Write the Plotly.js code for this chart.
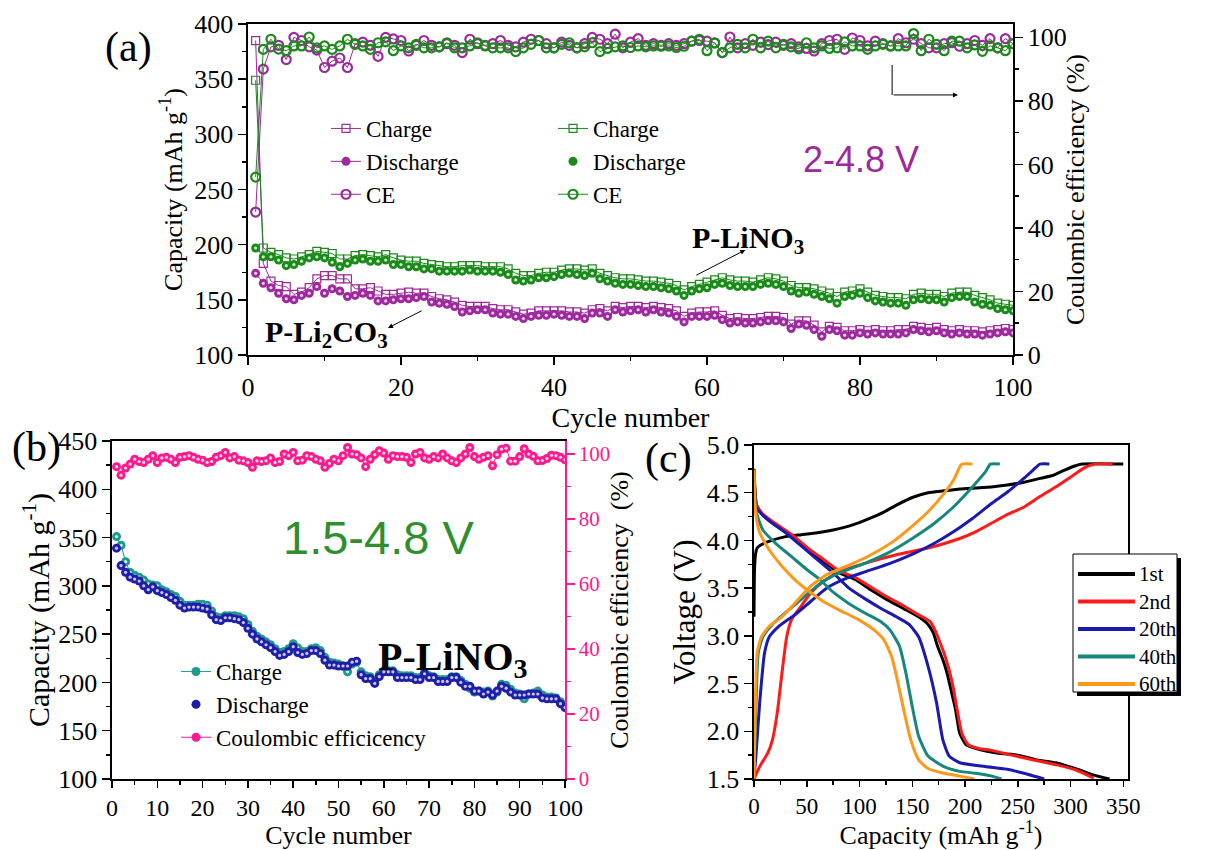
<!DOCTYPE html>
<html>
<head>
<meta charset="utf-8">
<script src="https://cdn.plot.ly/plotly-3.0.1.min.js"></script>
<style>
  html, body { margin: 0; padding: 0; background: #ffffff; }
  #fig { width: 1219px; height: 850px; }
</style>
</head>
<body>
<div id="fig"></div>
<script>
// ---------- Panel (a): cycling at 2-4.8 V ----------
const cyclesA = [1,2,3,4,5,6,7,8,9,10,11,12,13,14,15,16,17,18,19,20,21,22,23,24,25,26,27,28,29,30,31,32,33,34,35,36,37,38,39,40,41,42,43,44,45,46,47,48,49,50,51,52,53,54,55,56,57,58,59,60,61,62,63,64,65,66,67,68,69,70,71,72,73,74,75,76,77,78,79,80,81,82,83,84,85,86,87,88,89,90,91,92,93,94,95,96,97,98,99,100];

// P-Li2CO3
const li2co3Charge = [385,183,167,163,162,155,157,161,169,172,172,169,169,160,160,161,158,155,155,156,157,156,156,153,151,150,148,145,144,144,144,142,141,141,139,137,138,140,140,140,140,139,139,138,141,142,140,144,143,144,144,143,144,143,142,140,135,138,139,139,140,136,133,134,133,133,134,135,135,134,128,131,131,127,121,126,125,122,122,123,122,123,122,122,123,123,126,125,124,125,123,122,123,122,122,121,122,123,124,123];
const li2co3Discharge = [174,165,161,156,151,150,154,156,162,156,160,158,153,154,156,154,149,149,150,151,151,152,153,148,147,146,144,139,140,141,141,138,137,137,135,133,135,136,136,137,136,135,135,133,138,138,135,141,139,140,141,139,141,139,138,135,130,135,135,135,136,132,129,130,129,129,130,131,131,130,124,128,127,123,117,123,122,118,118,120,119,120,119,119,119,120,123,122,121,122,120,119,120,119,119,118,119,120,121,120];
const li2co3CE = [45,90,97,97.5,93,100,99,97,96,90.5,92.5,93.5,90.5,98,98.5,97.5,94,100,99.5,99,95.7,97.5,99,97.5,97,98,97.5,95.2,99.4,98,97.5,98,99,97.5,97,98.5,99.4,99,98,96.7,98.5,97.5,96.7,98,100,99.4,98,101,96.7,98.5,99.6,97.5,98,97.5,98,97.5,98,98.8,99,98.8,98.3,95.2,100.1,96.7,98,97.5,98.5,97.7,98.5,97.5,98,97,96.5,95.7,98,99,99.4,96.2,99.8,99,97.3,98.8,98,97.3,99.6,98.3,99.4,98,96.7,96.7,98,98.3,97.2,98,99,97.5,99.6,96.7,99.6,98];

// P-LiNO3
const linoCharge = [349,197,193,191,188,187,189,191,194,193,192,187,187,190,191,190,189,191,188,186,185,185,183,182,181,180,180,181,181,181,180,180,180,178,174,172,172,174,175,175,177,178,178,177,178,174,172,170,169,169,168,167,167,166,165,163,159,162,164,166,168,170,168,167,167,166,168,170,169,167,163,161,161,160,158,156,153,157,158,160,157,154,153,152,152,151,155,156,155,155,153,156,157,157,154,152,150,147,146,145];
const linoDischarge = [197,189,189,186,181,182,185,188,189,188,184,180,183,186,187,185,185,186,182,182,180,180,178,178,176,176,176,176,177,176,176,176,175,173,168,167,168,170,170,171,173,174,173,172,174,169,167,165,164,164,163,162,162,161,160,158,154,158,160,161,164,165,163,162,162,162,164,165,164,162,158,156,157,155,153,151,147,153,154,156,152,149,148,147,147,145,150,151,150,150,148,152,153,153,148,146,145,142,141,140];
const linoCE = [56,96.2,99.4,96.3,95.8,97.3,97.3,100.1,96.7,97.3,96.2,97.3,99.4,97.8,97.3,96.2,98.3,98.6,95.8,97.3,96.7,97.8,96.7,96.7,97,98.3,96.7,96.7,97.3,98.3,97.3,96.7,96.7,96.7,95.5,96.7,97.8,99,96.7,96.7,97.8,98.3,96.7,97,98.3,95.5,96.5,97,97.3,96.8,97.3,97,97.3,97.2,97.3,96.8,97.2,98.8,99.4,95.8,98.2,95.2,96.7,97.8,96.7,99.4,96.7,98.8,96.7,97.8,97,96.4,98.3,96.7,97.3,96.5,96.7,98.6,97.3,97.3,96.2,97.3,97.8,97.3,97.3,97.3,101.2,95.8,99.4,97.8,95.8,98.8,98.8,96.7,97.6,95.6,97.3,96.7,95.8,98];

// ---------- Panel (b): P-LiNO3 cycling at 1.5-4.8 V ----------
const cyclesB = cyclesA;
const wideCharge = [351,342,325,314,311,309,306,302,301,300,296,294,291,289,284,280,280,280,281,281,280,274,268,267,269,269,269,268,266,260,253,248,245,242,239,235,231,232,235,240,236,232,232,235,236,233,226,221,220,219,217,211,219,221,211,207,206,202,208,212,212,212,208,207,207,207,205,205,210,207,206,203,203,203,206,206,202,198,194,190,191,190,191,186,190,198,197,193,189,188,183,188,189,191,187,185,185,184,180,176];
const wideDischarge = [339,321,314,309,307,305,300,296,299,295,293,291,288,285,280,277,278,278,278,277,276,270,265,264,267,267,266,265,262,256,250,245,242,239,236,232,228,229,232,237,231,229,230,233,233,230,223,218,218,217,217,217,221,222,208,204,204,199,206,211,211,211,205,205,205,205,203,203,209,205,205,201,201,201,205,205,200,196,196,191,191,188,190,187,191,196,194,190,187,187,187,188,188,188,184,183,183,183,178,174];
const wideCE = [96.1,93.5,95.7,96.9,98.4,97.7,97.4,98.4,99.5,97.4,98.8,99.0,98.4,97.4,99.0,99.2,99.5,99.0,98.4,98.1,97.4,97.7,99.0,99.5,100.5,98.8,99.2,98.1,97.9,97.4,95.9,97.9,97.7,97.9,98.8,97.4,97.7,100.0,99.5,100.5,97.9,98.1,99.5,99.2,98.4,97.9,95.9,97.1,98.4,97.9,99.5,102.0,100.0,99.8,98.8,96.1,98.4,99.8,101.0,100.3,98.4,99.5,99.2,99.2,99.0,97.4,100.0,100.5,98.8,98.4,99.2,98.8,100.0,98.8,97.9,97.4,98.8,100.0,102.0,99.2,98.4,99.0,99.5,96.4,99.8,101.5,101.8,97.8,97.8,99.2,101.6,100.0,99.3,97.9,98.0,98.6,99.6,99.5,99.0,98.2];

// ---------- Panel (c): voltage profiles ----------
const c1ChargeCap = [0,0.5,1.5,3,6,14,30,45,60,75,90,105,120,135,150,165,180,195,210,225,240,256,271,283,295,304,311,350];
const c1ChargeV   = [3.20,3.70,3.86,3.92,3.95,3.99,4.04,4.06,4.08,4.11,4.15,4.21,4.28,4.37,4.45,4.50,4.52,4.54,4.55,4.56,4.58,4.61,4.65,4.68,4.74,4.78,4.80,4.80];
const c1DischCap  = [0,1,2.4,8,20,36,51,66,81,96,111,126,141,156,165,170,174,179,183,187,191,195,201,213,232,250,268,286,307,322,337];
const c1DischV    = [4.75,4.50,4.37,4.27,4.16,4.04,3.90,3.78,3.66,3.59,3.48,3.38,3.29,3.20,3.12,3.03,2.89,2.75,2.61,2.42,2.23,1.98,1.86,1.81,1.77,1.75,1.70,1.67,1.60,1.54,1.50];

const c2ChargeCap = [0,5.4,13,17.5,22,26.5,31,35.6,44.6,53.7,65.7,80.8,105,135,165,195,210,225,240,256,271,286,301,313,323.5,340];
const c2ChargeV   = [1.50,1.63,1.77,1.91,2.19,2.61,2.99,3.17,3.31,3.45,3.57,3.67,3.76,3.85,3.92,4.02,4.09,4.18,4.27,4.35,4.46,4.56,4.67,4.76,4.80,4.80];
const c2DischCap  = [0,1,2.4,8,20,36,51,66,81,96,111,126,141,156,167,172,176,181,185,189,192,197,203,213,225,244,265,286,304,322];
const c2DischV    = [4.74,4.50,4.37,4.28,4.18,4.06,3.92,3.80,3.68,3.61,3.51,3.41,3.32,3.22,3.15,3.05,2.94,2.79,2.64,2.45,2.26,1.98,1.86,1.82,1.80,1.75,1.70,1.65,1.60,1.51];

const c20ChargeCap = [0,2,5.4,10,14.5,23.5,38.6,53.7,68.7,86.8,105,129,153,171,189,207,225.5,240.6,255.7,264.7,271,280];
const c20ChargeV   = [1.50,1.77,2.30,2.82,2.99,3.10,3.22,3.36,3.50,3.60,3.67,3.76,3.87,3.97,4.09,4.23,4.39,4.51,4.65,4.74,4.80,4.80];
const c20DischCap  = [0,1,2.4,14,30,45,60,75,90,105,120,135,147,156,165,173,179,185,195,219,241,256,275];
const c20DischV    = [4.74,4.45,4.34,4.21,4.08,3.94,3.80,3.66,3.50,3.39,3.29,3.20,3.12,2.99,2.68,2.30,1.91,1.74,1.67,1.63,1.60,1.56,1.50];

const c40ChargeCap = [0,1.5,4,8.4,17.5,29.5,44.6,62.7,80.8,105,129,150,171,189,207,219.5,224,233];
const c40ChargeV   = [1.50,2.12,2.82,2.99,3.12,3.24,3.38,3.55,3.66,3.76,3.88,4.02,4.18,4.35,4.56,4.72,4.80,4.80];
const c40DischCap  = [0,1,2,8.4,20.5,35.6,50.6,62.7,74.8,89.8,105,120,129,138,144,150,156,165,180,195,210,225.5,234.6];
const c40DischV    = [4.74,4.42,4.30,4.11,3.97,3.83,3.69,3.59,3.46,3.34,3.24,3.15,3.06,2.89,2.61,2.26,1.95,1.74,1.63,1.58,1.56,1.53,1.50];

const c60ChargeCap = [0,1,3,7,14.5,26.5,38.6,53.7,68.7,90,111,132,150,165,180,189,195,197,207];
const c60ChargeV   = [1.50,2.12,2.82,2.99,3.10,3.20,3.34,3.52,3.64,3.74,3.85,3.99,4.15,4.30,4.49,4.63,4.77,4.80,4.80];
const c60DischCap  = [0,0.8,2,5.4,14.5,26.5,38.6,50.6,65.7,80.8,99,114,123,130.5,136.6,142.6,148.6,156,165,180,195,209];
const c60DischV    = [4.74,4.40,4.25,4.08,3.90,3.73,3.59,3.48,3.36,3.27,3.17,3.06,2.96,2.78,2.50,2.19,1.91,1.70,1.61,1.56,1.53,1.50];

const profileNames = ['1st','2nd','20th','40th','60th'];

// ---------- styling ----------
const W = 1219, H = 850;
const px = v => v / W;            // pixel -> paper x
const py = v => 1 - v / H;        // pixel -> paper y
const SERIF = 'Liberation Serif';
const SANS = 'Liberation Sans';
const PURPLE = '#9c2a9c', GREEN = '#1b8a1b';
const TEAL = '#1f9a8c', NAVY = '#1e1ea8', PINK = '#ff1a8c';
const profileColors = ['#000000', '#ff1a1a', '#1a1ab0', '#16877d', '#ff981a'];

const serif = (size, color) => ({ family: SERIF, size: size, color: color || '#000' });

function sphere(x, y, color, size, axes, extra) {
  return Object.assign({
    x: x, y: y, type: 'scatter', xaxis: axes[0], yaxis: axes[1],
    marker: { symbol: 'circle', size: size, color: color },
  }, extra);
}
// small pale dot on top of each filled marker (ball highlight)
function highlight(x, y, hl, axes) {
  return { x: x, y: y, type: 'scatter', mode: 'markers', xaxis: axes[0], yaxis: axes[1],
           marker: { symbol: 'circle', size: 3.2, color: hl }, showlegend: false, hoverinfo: 'skip' };
}

const traces = [];
// (a) P-Li2CO3
traces.push({ x: cyclesA, y: li2co3Charge, type: 'scatter', mode: 'lines+markers', name: 'Charge',
  xaxis: 'x', yaxis: 'y', legend: 'legend', line: { color: PURPLE, width: 1 },
  marker: { symbol: 'square-open', size: 8, color: PURPLE, line: { width: 1.2 } } });
traces.push(sphere(cyclesA, li2co3Discharge, PURPLE, 9, ['x','y'],
  { mode: 'lines+markers', name: 'Discharge', legend: 'legend', line: { color: PURPLE, width: 1 } }));
traces.push(highlight(cyclesA, li2co3Discharge, '#f3c9f3', ['x','y']));
// (a) P-LiNO3
traces.push({ x: cyclesA, y: linoCharge, type: 'scatter', mode: 'lines+markers', name: 'Charge',
  xaxis: 'x', yaxis: 'y', legend: 'legend2', line: { color: GREEN, width: 1 },
  marker: { symbol: 'square-open', size: 8, color: GREEN, line: { width: 1.2 } } });
traces.push(sphere(cyclesA, linoDischarge, GREEN, 9, ['x','y'],
  { mode: 'markers', name: 'Discharge', legend: 'legend2' }));
traces.push(highlight(cyclesA, linoDischarge, '#c9f0c9', ['x','y']));
// (a) coulombic efficiency on the right axis
traces.push({ x: cyclesA, y: li2co3CE, type: 'scatter', mode: 'lines+markers', name: 'CE',
  xaxis: 'x', yaxis: 'y2', legend: 'legend', line: { color: PURPLE, width: 1 },
  marker: { symbol: 'circle-open', size: 9, color: PURPLE, line: { width: 2.2 } } });
traces.push({ x: cyclesA, y: linoCE, type: 'scatter', mode: 'lines+markers', name: 'CE',
  xaxis: 'x', yaxis: 'y2', legend: 'legend2', line: { color: GREEN, width: 1 },
  marker: { symbol: 'circle-open', size: 9, color: GREEN, line: { width: 2.2 } } });

// (b)
traces.push(sphere(cyclesB, wideCharge, TEAL, 9, ['x3','y3'],
  { mode: 'lines+markers', name: 'Charge', legend: 'legend3', line: { color: TEAL, width: 1 } }));
traces.push(highlight(cyclesB, wideCharge, '#c6f2ec', ['x3','y3']));
traces.push(sphere(cyclesB, wideDischarge, NAVY, 9, ['x3','y3'],
  { mode: 'markers', name: 'Discharge', legend: 'legend3' }));
traces.push(highlight(cyclesB, wideDischarge, '#c8c8ff', ['x3','y3']));
traces.push(sphere(cyclesB, wideCE, PINK, 9, ['x3','y4'],
  { mode: 'lines+markers', name: 'Coulombic efficicency', legend: 'legend3', line: { color: PINK, width: 1 } }));
traces.push(highlight(cyclesB, wideCE, '#ffd6ea', ['x3','y4']));

// (c) one trace per cycle: charge branch, break, discharge branch
const profiles = [
  [c1ChargeCap, c1ChargeV, c1DischCap, c1DischV],
  [c2ChargeCap, c2ChargeV, c2DischCap, c2DischV],
  [c20ChargeCap, c20ChargeV, c20DischCap, c20DischV],
  [c40ChargeCap, c40ChargeV, c40DischCap, c40DischV],
  [c60ChargeCap, c60ChargeV, c60DischCap, c60DischV],
];
profiles.forEach((p, i) => {
  traces.push({
    x: p[0].concat([null], p[2]), y: p[1].concat([null], p[3]),
    type: 'scatter', mode: 'lines', name: profileNames[i], showlegend: false,
    xaxis: 'x5', yaxis: 'y5', connectgaps: false,
    line: { color: profileColors[i], width: 3, shape: 'spline', smoothing: 0.5 },
  });
});

// ---------- axes ----------
function minorTicks(dtick, dir, color) {
  return { dtick: dtick, ticks: dir, ticklen: 4, tickwidth: 1.5, tickcolor: color || '#000' };
}
function baseAxis(extra) {
  return Object.assign({
    showgrid: false, zeroline: false, showline: true, linecolor: '#000', linewidth: 1.6,
    ticks: 'outside', ticklen: 8, tickwidth: 1.5, tickcolor: '#000',
    tickfont: serif(26), fixedrange: true,
  }, extra);
}
function topTicks(over, anchor, dtick, mdtick) {
  return { overlaying: over, side: 'top', anchor: anchor, dtick: dtick, showticklabels: false,
    showgrid: false, zeroline: false, showline: false, ticks: 'inside', ticklen: 8, tickwidth: 1.5,
    tickcolor: '#000', minor: minorTicks(mdtick, 'inside'), fixedrange: true };
}

const shapes = [
  // bent pointer toward the efficiency axis in (a)
  { type: 'line', xref: 'x', yref: 'y', x0: 84.2, x1: 84.2, y0: 362.9, y1: 335.7,
    line: { color: '#000', width: 1 } },
  // legend frame of (c) with its drop shadow
  { type: 'rect', xref: 'paper', yref: 'paper', x0: px(1077), x1: px(1181), y0: py(696), y1: py(558),
    fillcolor: '#000', line: { width: 0 } },
  { type: 'rect', xref: 'paper', yref: 'paper', x0: px(1073), x1: px(1177), y0: py(692), y1: py(554),
    fillcolor: '#fff', line: { color: '#000', width: 1 } },
];
const annotations = [
  { xref: 'paper', yref: 'paper', x: px(128), y: py(47), text: '(a)', showarrow: false,
    font: serif(42), xanchor: 'center', yanchor: 'middle' },
  { xref: 'paper', yref: 'paper', x: px(36), y: py(447), text: '(b)', showarrow: false,
    font: serif(42), xanchor: 'center', yanchor: 'middle' },
  { xref: 'paper', yref: 'paper', x: px(668), y: py(458), text: '(c)', showarrow: false,
    font: serif(42), xanchor: 'center', yanchor: 'middle' },
  { xref: 'x', yref: 'y', x: 80.1, y: 277, text: '2-4.8 V', showarrow: false,
    font: { family: SANS, size: 36, color: PURPLE } },
  { xref: 'x', yref: 'y', x: 65.4, y: 204, text: '<b>P-LiNO<sub>3</sub></b>', showarrow: false,
    font: serif(30) },
  { xref: 'x', yref: 'y', x: 10.3, y: 119, text: '<b>P-Li<sub>2</sub>CO<sub>3</sub></b>', showarrow: false,
    font: serif(30) },
  { xref: 'x', yref: 'y', axref: 'x', ayref: 'y', x: 18.3, y: 124.5, ax: 22.9, ay: 140.8, text: '',
    showarrow: true, arrowhead: 2, arrowsize: 1, arrowwidth: 1, arrowcolor: '#000' },
  { xref: 'x', yref: 'y', axref: 'x', ayref: 'y', x: 65, y: 195.2, ax: 58.4, ay: 171.6, text: '',
    showarrow: true, arrowhead: 2, arrowsize: 1, arrowwidth: 1, arrowcolor: '#000' },
  { xref: 'x', yref: 'y', axref: 'x', ayref: 'y', x: 92.8, y: 335.7, ax: 84.2, ay: 335.7, text: '',
    showarrow: true, arrowhead: 2, arrowsize: 1, arrowwidth: 1, arrowcolor: '#000' },
  { xref: 'x3', yref: 'y3', x: 58.8, y: 350, text: '1.5-4.8 V', showarrow: false,
    font: { family: SANS, size: 47, color: '#2f8f2f' } },
  { xref: 'x3', yref: 'y3', x: 75.2, y: 224, text: '<b>P-LiNO<sub>3</sub></b>', showarrow: false,
    font: serif(40) },
];
// legend entries of (c): colour key line + cycle label
profileNames.forEach((name, i) => {
  const yc = 574 + 27.5 * i;
  shapes.push({ type: 'line', xref: 'paper', yref: 'paper', x0: px(1078), x1: px(1135),
    y0: py(yc), y1: py(yc), line: { color: profileColors[i], width: 4 } });
  annotations.push({ xref: 'paper', yref: 'paper', x: px(1137), y: py(yc), text: name,
    showarrow: false, xanchor: 'left', yanchor: 'middle', font: serif(21) });
});

const layout = {
  width: W, height: H,
  margin: { l: 0, r: 0, t: 0, b: 0 },
  paper_bgcolor: '#fff', plot_bgcolor: 'rgba(0,0,0,0)',
  font: { family: SERIF, color: '#000' },
  // (a)
  xaxis: baseAxis({ domain: [px(248), px(1013)], anchor: 'y', range: [0, 100], dtick: 20, mirror: true,
    minor: minorTicks(10, 'outside'),
    title: { text: 'Cycle number', font: serif(28), standoff: 0 } }),
  xaxis2: Object.assign(topTicks('x', 'y', 20, 10), { range: [0, 100] }),
  yaxis: baseAxis({ domain: [py(355), py(24)], anchor: 'x', range: [100, 400], dtick: 50,
    minor: minorTicks(25, 'outside'),
    title: { text: 'Capacity (mAh g<sup>-1</sup>)', font: serif(26), standoff: 4 } }),
  yaxis2: baseAxis({ overlaying: 'y', side: 'right', anchor: 'x', range: [0, 104.2], dtick: 20,
    minor: minorTicks(10, 'outside'),
    title: { text: 'Coulombic efficiency (%)', font: serif(26), standoff: 0 } }),
  // (b)
  xaxis3: baseAxis({ domain: [px(112), px(565)], anchor: 'y3', range: [0, 100], dtick: 10, mirror: true,
    ticklen: 7, tickfont: serif(24),
    minor: minorTicks(5, 'outside'),
    title: { text: 'Cycle number', font: serif(26), standoff: 7 } }),
  xaxis4: Object.assign(topTicks('x3', 'y3', 10, 5), { range: [0, 100], ticklen: 7 }),
  yaxis3: baseAxis({ domain: [py(779), py(441)], anchor: 'x3', range: [100, 450], dtick: 50,
    minor: minorTicks(25, 'outside'),
    title: { text: 'Capacity (mAh g<sup>-1</sup>)', font: serif(30), standoff: 0 } }),
  yaxis4: baseAxis({ overlaying: 'y3', side: 'right', anchor: 'x3', range: [0, 104], dtick: 20,
    linecolor: PINK, tickcolor: PINK, tickfont: serif(21, PINK),
    minor: minorTicks(10, 'outside', PINK),
    title: { text: 'Coulombic efficiency  (%)', font: serif(26), standoff: 0 } }),
  // (c)
  xaxis5: baseAxis({ domain: [px(754), px(1128)], anchor: 'y5', range: [0, 354.5], dtick: 50, mirror: true,
    ticklen: 6, tickfont: serif(23),
    minor: minorTicks(25, 'outside'),
    title: { text: 'Capacity (mAh g<sup>-1</sup>)', font: serif(26), standoff: 9 } }),
  yaxis5: baseAxis({ domain: [py(779), py(445)], anchor: 'x5', range: [1.5, 5.0], dtick: 0.5, tickformat: '.1f', mirror: true,
    minor: minorTicks(0.25, 'outside'),
    title: { text: 'Voltage (V)', font: serif(31), standoff: 2 } }),

  legend: { x: px(326), y: py(107), xanchor: 'left', yanchor: 'top', bgcolor: 'rgba(0,0,0,0)',
    font: serif(23), tracegroupgap: 0 },
  legend2: { x: px(553), y: py(107), xanchor: 'left', yanchor: 'top', bgcolor: 'rgba(0,0,0,0)',
    font: serif(23), tracegroupgap: 0 },
  legend3: { x: px(176), y: py(650), xanchor: 'left', yanchor: 'top', bgcolor: 'rgba(0,0,0,0)',
    font: serif(23), tracegroupgap: 0 },

  shapes: shapes,
  annotations: annotations,
  showlegend: true,
};

Plotly.newPlot('fig', traces, layout, { displayModeBar: false, staticPlot: true });
</script>
</body>
</html>
